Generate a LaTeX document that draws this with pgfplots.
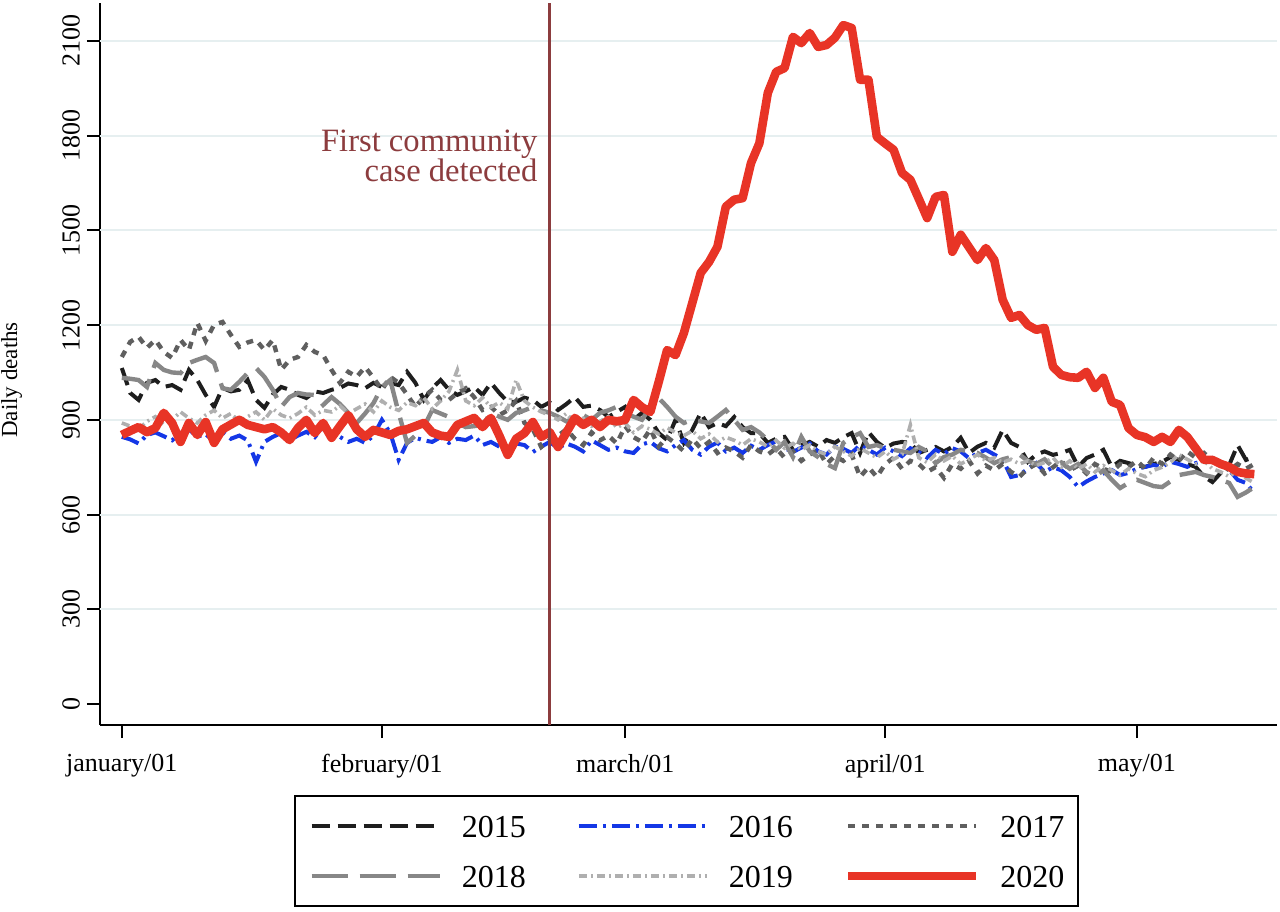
\documentclass[border=0pt]{standalone}
\usepackage{fontspec}
\setmainfont{Liberation Serif}
\usepackage{pgfplots}
\usepackage{pgfplotstable}
\pgfplotsset{compat=1.18}

\definecolor{c15}{RGB}{30,30,30}
\definecolor{c16}{RGB}{20,55,230}
\definecolor{c17}{RGB}{95,95,95}
\definecolor{c18}{RGB}{135,135,135}
\definecolor{c19}{RGB}{175,175,175}
\definecolor{c20}{RGB}{232,52,38}
\definecolor{annot}{RGB}{140,60,62}
\definecolor{gridc}{RGB}{230,239,240}

% daily deaths, day 0 = January 1
\pgfplotstableread[row sep=\\]{y\\1064\\985\\963\\1017\\1026\\1004\\1010\\995\\1058\\1026\\979\\941\\1001\\990\\995\\1026\\963\\938\\980\\1004\\995\\979\\969\\990\\985\\
995\\1001\\1015\\1010\\1000\\1017\\1004\\1017\\1010\\1052\\1017\\963\\1000\\1026\\995\\979\\990\\1004\\979\\1017\\985\\957\\957\\970\\963\\941\\955\\
931\\950\\972\\941\\945\\931\\909\\925\\941\\900\\922\\900\\858\\836\\900\\827\\868\\922\\877\\890\\880\\909\\877\\858\\
858\\827\\840\\846\\805\\820\\830\\815\\836\\827\\845\\858\\795\\861\\830\\811\\825\\830\\827\\795\\805\\814\\800\\814\\843\\795\\815\\827\\812\\868\\827\\814\\
767\\790\\800\\789\\795\\805\\751\\779\\790\\805\\751\\770\\763\\755\\751\\760\\767\\782\\773\\760\\751\\720\\703\\732\\757\\820\\773\\782\\}\tA

\pgfplotstableread[row sep=\\]{y\\846\\838\\825\\852\\860\\848\\835\\858\\870\\846\\855\\830\\862\\840\\850\\835\\767\\830\\846\\858\\836\\850\\862\\845\\877\\
860\\846\\830\\840\\827\\850\\900\\858\\773\\827\\843\\835\\830\\845\\827\\840\\836\\850\\820\\830\\815\\805\\825\\820\\798\\815\\830\\
810\\825\\815\\800\\835\\820\\805\\812\\800\\795\\822\\830\\810\\800\\820\\836\\805\\790\\815\\828\\800\\812\\795\\818\\
805\\820\\832\\810\\798\\812\\825\\800\\790\\815\\808\\795\\820\\805\\790\\812\\800\\785\\810\\798\\780\\805\\792\\810\\800\\778\\795\\805\\790\\775\\719\\725\\
745\\763\\735\\750\\740\\719\\687\\705\\719\\730\\741\\725\\732\\745\\751\\757\\751\\767\\760\\751\\763\\770\\779\\760\\741\\710\\700\\668\\}\tB

\pgfplotstableread[row sep=\\]{y\\1099\\1147\\1163\\1128\\1153\\1115\\1096\\1153\\1121\\1207\\1150\\1201\\1210\\1169\\1131\\1145\\1153\\1121\\1153\\1058\\1090\\1099\\1137\\1115\\1105\\
1058\\1017\\1052\\1036\\1067\\1033\\995\\1036\\1017\\980\\941\\972\\995\\963\\963\\985\\1000\\972\\931\\941\\915\\930\\960\\890\\870\\814\\836\\
850\\870\\840\\820\\860\\835\\850\\825\\880\\845\\830\\870\\815\\845\\825\\800\\840\\810\\830\\795\\812\\800\\780\\820\\
800\\790\\810\\780\\800\\770\\790\\805\\760\\785\\770\\790\\719\\750\\719\\760\\780\\745\\770\\760\\735\\750\\716\\760\\745\\770\\730\\755\\740\\760\\735\\720\\
745\\760\\730\\750\\770\\740\\755\\730\\760\\745\\735\\760\\750\\770\\745\\780\\760\\790\\770\\800\\780\\795\\770\\760\\740\\760\\745\\760\\}\tC

\pgfplotstableread[row sep=\\]{y\\1033\\1030\\1026\\1004\\1080\\1058\\1050\\1048\\1080\\1090\\1099\\1080\\1000\\995\\1020\\1048\\1064\\1036\\995\\941\\972\\985\\980\\979\\947\\
972\\950\\922\\890\\920\\953\\1004\\1026\\922\\827\\850\\877\\931\\920\\909\\890\\877\\880\\884\\922\\910\\900\\922\\930\\941\\930\\922\\
910\\895\\905\\915\\900\\922\\930\\941\\920\\910\\900\\941\\969\\941\\910\\890\\900\\895\\890\\910\\931\\900\\868\\877\\
860\\836\\805\\830\\782\\846\\800\\782\\760\\747\\827\\845\\858\\814\\820\\810\\805\\800\\795\\814\\800\\763\\782\\790\\805\\800\\795\\780\\763\\775\\782\\790\\
770\\760\\775\\750\\765\\745\\760\\735\\720\\740\\710\\684\\700\\710\\700\\690\\687\\705\\725\\730\\735\\725\\719\\710\\700\\656\\670\\687\\}\tD

\pgfplotstableread[row sep=\\]{y\\890\\880\\870\\895\\910\\885\\900\\925\\905\\890\\915\\930\\905\\920\\895\\910\\925\\900\\935\\915\\905\\920\\940\\915\\930\\
925\\945\\920\\935\\950\\925\\960\\940\\930\\955\\945\\970\\935\\960\\990\\1058\\960\\945\\970\\940\\955\\935\\1026\\960\\940\\925\\915\\
900\\920\\890\\905\\880\\895\\910\\875\\890\\860\\880\\870\\855\\875\\860\\850\\865\\840\\855\\830\\845\\835\\820\\840\\
830\\815\\835\\810\\825\\805\\820\\800\\790\\815\\800\\785\\810\\795\\780\\800\\775\\790\\884\\780\\765\\790\\770\\785\\760\\775\\790\\770\\780\\765\\775\\760\\
770\\755\\765\\780\\750\\770\\745\\760\\735\\755\\740\\725\\745\\730\\720\\740\\750\\765\\790\\775\\760\\770\\745\\735\\720\\740\\715\\700\\}\tE

\pgfplotstableread[row sep=\\]{y\\852\\865\\877\\861\\874\\922\\890\\830\\890\\852\\893\\827\\870\\885\\900\\884\\877\\870\\877\\860\\836\\874\\900\\858\\890\\
843\\880\\915\\870\\846\\868\\860\\852\\865\\870\\880\\890\\860\\850\\846\\884\\895\\906\\877\\906\\850\\789\\840\\858\\893\\846\\861\\
814\\860\\906\\884\\900\\877\\900\\895\\900\\963\\940\\925\\1020\\1121\\1105\\1175\\1270\\1365\\1400\\1448\\1575\\1597\\1602\\1713\\
1776\\1935\\2002\\2014\\2113\\2093\\2125\\2081\\2087\\2110\\2150\\2141\\1977\\1977\\1796\\1775\\1755\\1682\\1660\\1600\\1539\\1606\\1612\\1432\\1486\\1446\\1406\\1444\\1406\\1280\\1223\\1232\\
1200\\1185\\1191\\1068\\1042\\1035\\1033\\1052\\1001\\1033\\957\\947\\874\\852\\845\\830\\846\\830\\868\\846\\810\\773\\773\\760\\751\\735\\730\\728\\}\tF

\begin{document}
\begin{tikzpicture}
\begin{axis}[
  at={(0,0)}, anchor=south west,
  scale only axis, width=588.5pt, height=361pt,
  xmin=-2.6, xmax=137.7, ymin=-66.5, ymax=2220,
  axis x line*=bottom, axis y line*=left,
  axis line style={line width=1pt, black},
  tick align=outside, major tick length=6.5pt,
  tick style={line width=1pt, black},
  xtick={0,31,60,91,121},
  xticklabels={january/01, february/01, march/01, april/01, may/01},
  ytick={0},
  extra y ticks={300,600,...,2100},
  extra y tick style={grid=major},
  major grid style={gridc, line width=1pt},
  /pgf/number format/1000 sep={},
  /pgf/number format/assume math mode=true,
  tick label style={font=\fontsize{13}{15}\selectfont},
  x tick label style={yshift=-4.5pt},
  y tick label style={rotate=90, anchor=south},
  ylabel={Daily deaths},
  ylabel style={font=\fontsize{11.5}{13}\selectfont, at={(axis description cs:-0.075,0.478)}, anchor=center},
  legend columns=3,
  legend cell align=left,
  legend image code/.code={\draw[#1] (0pt,0pt) -- (64pt,0pt);},
  legend style={at={(0.4987,-0.097)}, anchor=north, draw=black, line width=1pt,
    inner xsep=7pt, inner ysep=9.5pt, font=\fontsize{16}{16}\selectfont,
    nodes={inner sep=0pt, text height=11pt, text depth=0pt},
    row sep=14pt,
    /tikz/every even column/.append style={column sep=25.5pt},
    /tikz/every odd column/.append style={column sep=10pt}},
]
\addplot[c15, line width=2pt, dash pattern=on 9pt off 4pt] table[x expr=\coordindex, y=y] {\tA};
\addlegendentry{2015}
\addplot[c16, line width=2pt, dash pattern=on 9pt off 3pt on 1.5pt off 3pt] table[x expr=\coordindex, y=y] {\tB};
\addlegendentry{2016}
\addplot[c17, line width=2.2pt, dash pattern=on 3.5pt off 3.5pt] table[x expr=\coordindex, y=y] {\tC};
\addlegendentry{2017}
\addplot[c18, line width=2.2pt, dash pattern=on 18pt off 6pt] table[x expr=\coordindex, y=y] {\tD};
\addlegendentry{2018}
\addplot[c19, line width=1.8pt, dash pattern=on 4pt off 2pt on 1pt off 2pt] table[x expr=\coordindex, y=y] {\tE};
\addlegendentry{2019}
\addplot[c20, line width=4.3pt, line join=round] table[x expr=\coordindex, y=y] {\tF};
\addlegendentry{2020}
\addplot[annot, line width=1.3pt, forget plot] coordinates {(51,-66.5) (51,2220)};
\node[anchor=east, align=right, inner sep=0pt, text=annot, font=\fontsize{16.3}{15}\selectfont]
  at (axis cs:49.6,1736) {First community\\case detected};
\end{axis}
\pgfresetboundingbox
\path[use as bounding box] (-50pt,-93pt) rectangle (590pt,362.5pt);
\end{tikzpicture}
\end{document}
